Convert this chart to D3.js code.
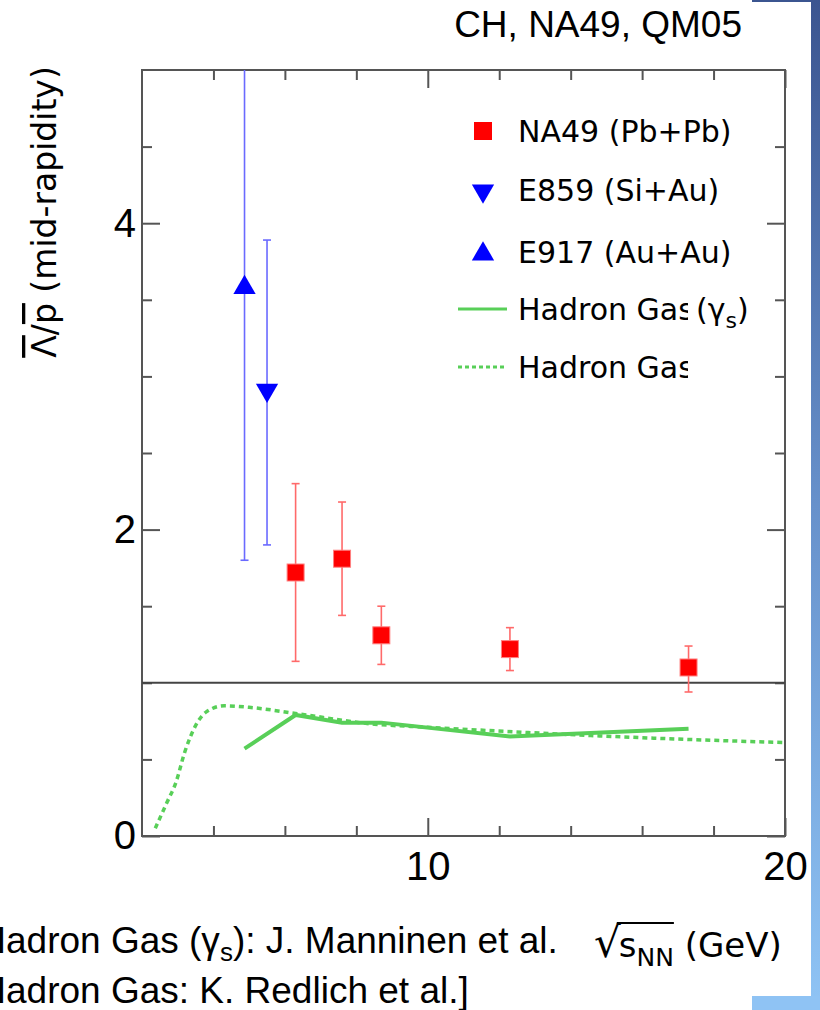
<!DOCTYPE html>
<html>
<head>
<meta charset="utf-8">
<script src="https://cdn.jsdelivr.net/npm/d3@7"></script>
<style>
  body { margin: 0; background: #fff; }
  svg { display: block; }
</style>
</head>
<body>
<svg id="chart"></svg>
<script>
// NA49 (Pb+Pb) anti-Lambda / anti-p
const na49_x  = [6.3, 7.6, 8.7, 12.3, 17.3];
const na49_y  = [1.72, 1.81, 1.31, 1.22, 1.10];
const na49_lo = [1.14, 1.44, 1.12, 1.08, 0.94];
const na49_hi = [2.30, 2.18, 1.50, 1.36, 1.24];

// E859 (Si+Au)
const e859_x  = [5.5];
const e859_y  = [2.91];
const e859_lo = [1.90];
const e859_hi = [3.89];

// E917 (Au+Au)
const e917_x  = [4.87];
const e917_y  = [3.58];
const e917_lo = [1.80];
const e917_hi = [5.36];

// Hadron gas with gamma_s (solid)
const hg_gs_x = [4.87, 6.3, 7.6, 8.7, 12.3, 17.3];
const hg_gs_y = [0.57, 0.79, 0.74, 0.74, 0.65, 0.70];

// Hadron gas (dotted)
const hg_x = [2.37, 2.7, 2.95, 3.2, 3.5, 3.8, 4.3, 5.0, 6.3, 8.5, 10.0, 12.4, 17.3, 20.0];
const hg_y = [0.05, 0.22, 0.35, 0.55, 0.72, 0.81, 0.85, 0.84, 0.80, 0.73, 0.71, 0.68, 0.63, 0.61];

// ticks
const x_major = [10, 20];
const x_minor = [4, 6, 8, 12, 14, 16, 18];
const y_major = [0, 2, 4];
const y_minor = [0.5, 1, 1.5, 2.5, 3, 3.5, 4.5];
const ref_line = 1;

const W = 820, H = 1010;
const margin = {top: 70, right: 35, bottom: 174, left: 142};
const iw = W - margin.left - margin.right;
const ih = H - margin.top - margin.bottom;

const red = '#ff0000', blue = '#0000ff', green = '#58cf58';
const axisColor = '#555';

const svg = d3.select('#chart').attr('width', W).attr('height', H);

const defs = svg.append('defs');
const grad = defs.append('linearGradient')
    .attr('id', 'strip').attr('x1', 0).attr('x2', 0).attr('y1', 0).attr('y2', 1);
grad.append('stop').attr('offset', '0%').attr('stop-color', '#3b5590');
grad.append('stop').attr('offset', '50%').attr('stop-color', '#6791cb');
grad.append('stop').attr('offset', '100%').attr('stop-color', '#8fc4f5');

defs.append('clipPath').attr('id', 'plotclip')
    .append('rect').attr('x', 0).attr('y', 0).attr('width', iw).attr('height', ih);

defs.append('clipPath').attr('id', 'legclip')
    .append('rect').attr('x', 0).attr('y', 0).attr('width', 688).attr('height', H);

// slide decoration on the right
svg.append('rect').attr('x', 752).attr('y', 0).attr('width', 68).attr('height', 2).attr('fill', '#3b5590');
svg.append('rect').attr('x', 811).attr('y', 0).attr('width', 9).attr('height', H).attr('fill', 'url(#strip)');
svg.append('rect').attr('x', 752).attr('y', 996).attr('width', 68).attr('height', 14).attr('fill', '#8fc3f4');

const x = d3.scaleLinear().domain([2, 20]).range([0, iw]);
const y = d3.scaleLinear().domain([0, 5]).range([ih, 0]);

const chart = svg.append('g').attr('transform', `translate(${margin.left},${margin.top})`);

// axes: ticks point inward on all four sides
function styleAxis(g) {
    g.select('.domain').remove();
    g.selectAll('.tick line').attr('stroke', axisColor).attr('stroke-width', 2);
    g.selectAll('.tick text').attr('fill', '#000')
        .style('font-family', '"Liberation Sans", Arial, sans-serif').style('font-size', '40px');
}

chart.append('g').attr('transform', `translate(0,${ih})`)
    .call(d3.axisBottom(x).tickValues(x_major).tickSize(-18).tickPadding(16).tickFormat(d3.format('d')))
    .call(styleAxis);
chart.append('g').attr('transform', `translate(0,${ih})`)
    .call(d3.axisBottom(x).tickValues(x_minor).tickSize(-10).tickFormat(''))
    .call(styleAxis);
chart.append('g')
    .call(d3.axisTop(x).tickValues(x_major).tickSize(-18).tickFormat(''))
    .call(styleAxis);
chart.append('g')
    .call(d3.axisTop(x).tickValues(x_minor).tickSize(-10).tickFormat(''))
    .call(styleAxis);

chart.append('g')
    .call(d3.axisLeft(y).tickValues(y_major).tickSize(-18).tickPadding(6).tickFormat(d3.format('d')))
    .call(styleAxis);
chart.append('g')
    .call(d3.axisLeft(y).tickValues(y_minor).tickSize(-10).tickFormat(''))
    .call(styleAxis);
chart.append('g').attr('transform', `translate(${iw},0)`)
    .call(d3.axisRight(y).tickValues(y_major).tickSize(-18).tickFormat(''))
    .call(styleAxis);
chart.append('g').attr('transform', `translate(${iw},0)`)
    .call(d3.axisRight(y).tickValues(y_minor).tickSize(-10).tickFormat(''))
    .call(styleAxis);

chart.append('rect')
    .attr('width', iw).attr('height', ih)
    .attr('fill', 'none').attr('stroke', axisColor).attr('stroke-width', 2);

// reference line at 1
chart.append('line')
    .attr('x1', 0).attr('x2', iw)
    .attr('y1', y(ref_line)).attr('y2', y(ref_line))
    .attr('stroke', '#444').attr('stroke-width', 2);

const plot = chart.append('g').attr('clip-path', 'url(#plotclip)');

// model curves
const hg = hg_x.map((d, i) => ({x: d, y: hg_y[i]}));
const hg_gs = hg_gs_x.map((d, i) => ({x: d, y: hg_gs_y[i]}));

plot.append('path')
    .datum(hg)
    .attr('fill', 'none').attr('stroke', green).attr('stroke-width', 3.5)
    .attr('stroke-dasharray', '5,4')
    .attr('d', d3.line().x(d => x(d.x)).y(d => y(d.y)).curve(d3.curveMonotoneX));

plot.append('path')
    .datum(hg_gs)
    .attr('fill', 'none').attr('stroke', green).attr('stroke-width', 4)
    .attr('d', d3.line().x(d => x(d.x)).y(d => y(d.y)));

// data with error bars
function points(xs, ys, lo, hi) {
    return xs.map((d, i) => ({x: d, y: ys[i], lo: lo[i], hi: hi[i]}));
}
const na49 = points(na49_x, na49_y, na49_lo, na49_hi);
const e859 = points(e859_x, e859_y, e859_lo, e859_hi);
const e917 = points(e917_x, e917_y, e917_lo, e917_hi);

function errorBars(data, color, cls) {
    const g = plot.selectAll('.' + cls).data(data).join('g').attr('class', cls);
    g.append('line')
        .attr('x1', d => x(d.x)).attr('x2', d => x(d.x))
        .attr('y1', d => y(d.lo)).attr('y2', d => y(d.hi))
        .attr('stroke', color).attr('stroke-width', 1.6);
    ['lo', 'hi'].forEach(k => {
        g.append('line')
            .attr('x1', d => x(d.x) - 4).attr('x2', d => x(d.x) + 4)
            .attr('y1', d => y(d[k])).attr('y2', d => y(d[k]))
            .attr('stroke', color).attr('stroke-width', 1.6);
    });
}
errorBars(na49, '#ff6a6a', 'err-na49');
errorBars(e859, '#6a6aff', 'err-e859');
errorBars(e917, '#6a6aff', 'err-e917');

const sq = 17;
plot.selectAll('.na49').data(na49).join('rect')
    .attr('class', 'na49')
    .attr('x', d => x(d.x) - sq / 2).attr('y', d => y(d.y) - sq / 2)
    .attr('width', sq).attr('height', sq)
    .attr('fill', red).attr('stroke', '#ff8080').attr('stroke-width', 1);

const tri = d3.symbol(d3.symbolTriangle).size(215);
plot.selectAll('.e859').data(e859).join('path')
    .attr('class', 'e859')
    .attr('transform', d => `translate(${x(d.x)},${y(d.y)}) rotate(180)`)
    .attr('d', tri).attr('fill', blue);
plot.selectAll('.e917').data(e917).join('path')
    .attr('class', 'e917')
    .attr('transform', d => `translate(${x(d.x)},${y(d.y)})`)
    .attr('d', tri).attr('fill', blue);

// legend
const legFont = '"DejaVu Sans", Verdana, sans-serif';
const leg = svg.append('g').style('font-family', legFont).style('font-size', '30px');
const legX = 483, legTx = 518;

leg.append('rect').attr('x', legX - 9).attr('y', 131 - 9).attr('width', 18).attr('height', 18).attr('fill', red);
leg.append('text').attr('x', legTx).attr('y', 142).text('NA49 (Pb+Pb)');

leg.append('path').attr('transform', `translate(${legX},191) rotate(180)`).attr('d', tri).attr('fill', blue);
leg.append('text').attr('x', legTx).attr('y', 201).text('E859 (Si+Au)');

leg.append('path').attr('transform', `translate(${legX},254)`).attr('d', tri).attr('fill', blue);
leg.append('text').attr('x', legTx).attr('y', 263).text('E917 (Au+Au)');

leg.append('line').attr('x1', 458).attr('x2', 507).attr('y1', 309).attr('y2', 309)
    .attr('stroke', green).attr('stroke-width', 3);
leg.append('text').attr('x', legTx).attr('y', 320).attr('clip-path', 'url(#legclip)').text('Hadron Gas');
const gs = leg.append('text').attr('x', 696).attr('y', 320);
gs.append('tspan').text('(γ');
gs.append('tspan').attr('dy', 8).style('font-size', '22px').text('s');
gs.append('tspan').attr('dy', -8).text(')');

leg.append('line').attr('x1', 458).attr('x2', 507).attr('y1', 367).attr('y2', 367)
    .attr('stroke', green).attr('stroke-width', 3).attr('stroke-dasharray', '4,3');
leg.append('text').attr('x', legTx).attr('y', 378).attr('clip-path', 'url(#legclip)').text('Hadron Gas');

// y axis label
const ylab = svg.append('text')
    .attr('transform', 'translate(56,212) rotate(-90)')
    .attr('text-anchor', 'middle')
    .style('font-family', legFont).style('font-size', '33px');
ylab.append('tspan').style('text-decoration', 'overline').text('Λ');
ylab.append('tspan').text('/');
ylab.append('tspan').style('text-decoration', 'overline').text('p');
ylab.append('tspan').text(' (mid-rapidity)');

// x axis label: sqrt(s_NN) (GeV)
const xl = svg.append('text').attr('x', 594).attr('y', 957)
    .style('font-family', legFont).style('font-size', '34px');
xl.append('tspan').style('font-size', '42px').text('√');
xl.append('tspan').attr('dx', -2).text('s');
xl.append('tspan').attr('dy', 9).style('font-size', '25px').text('NN');
xl.append('tspan').attr('dy', -9).text(' (GeV)');
const xlNode = xl.node();
const ovStart = 594 + xlNode.getSubStringLength(0, 1) - 4;
const ovEnd = 594 + xlNode.getSubStringLength(0, 4) - 2;
svg.append('line').attr('x1', ovStart).attr('x2', ovEnd).attr('y1', 923).attr('y2', 923)
    .attr('stroke', '#000').attr('stroke-width', 1.8);

// title and references
const sans = '"Liberation Sans", Arial, sans-serif';
svg.append('text').attr('x', 742).attr('y', 37).attr('text-anchor', 'end')
    .style('font-family', sans).style('font-size', '37px').text('CH, NA49, QM05');

const ref1 = svg.append('text').attr('x', -31).attr('y', 953)
    .style('font-family', sans).style('font-size', '37px');
ref1.append('tspan').text('[Hadron Gas (γ');
ref1.append('tspan').attr('dy', 8).style('font-size', '26px').text('s');
ref1.append('tspan').attr('dy', -8).text('): J. Manninen et al.');

svg.append('text').attr('x', -31).attr('y', 1003)
    .style('font-family', sans).style('font-size', '37px')
    .text('[Hadron Gas: K. Redlich et al.]');
</script>
</body>
</html>
